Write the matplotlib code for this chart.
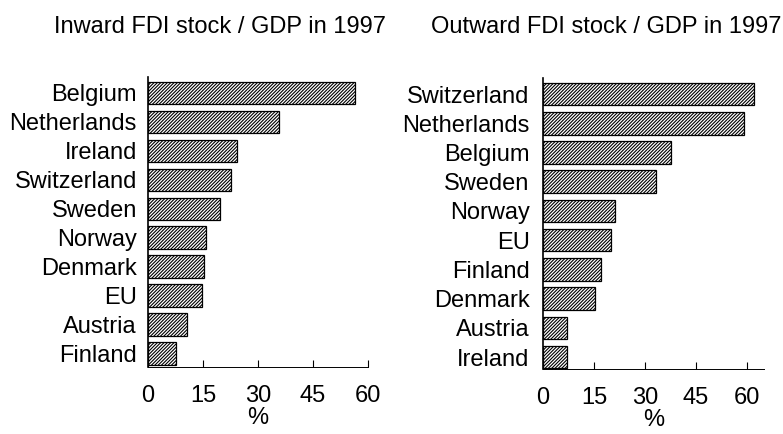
import matplotlib
matplotlib.use("Agg")
import matplotlib.pyplot as plt

plt.rcParams['font.family'] = ['Liberation Sans', 'DejaVu Sans']
plt.rcParams['hatch.linewidth'] = 0.8

inward_countries = ['Belgium', 'Netherlands', 'Ireland', 'Switzerland', 'Sweden',
                    'Norway', 'Denmark', 'EU', 'Austria', 'Finland']
inward_values = [56.4, 35.8, 24.3, 22.6, 19.6, 15.8, 15.4, 14.8, 10.5, 7.5]

outward_countries = ['Switzerland', 'Netherlands', 'Belgium', 'Sweden', 'Norway',
                     'EU', 'Finland', 'Denmark', 'Austria', 'Ireland']
outward_values = [62.0, 59.2, 37.7, 33.3, 21.1, 19.9, 17.2, 15.4, 7.2, 7.1]

xticks = [0, 15, 30, 45, 60]

fig = plt.figure(figsize=(7.83, 4.34), dpi=100)
ax1 = fig.add_axes([148 / 783, 1 - 367 / 434, 220 / 783, 290 / 434])
ax2 = fig.add_axes([543 / 783, 1 - 369 / 434, 221 / 783, 291 / 434])


def draw(ax, countries, values, xmax, ylim, label_pad):
    pos = range(len(countries))
    ax.barh(pos, values, height=0.77, color='white', edgecolor='black',
            linewidth=0.9, hatch='//////////')
    ax.set_yticks(list(pos))
    ax.set_yticklabels(countries, fontsize=17)
    ax.set_ylim(*ylim)
    ax.set_xlim(0, xmax)
    ax.set_xticks(xticks)
    ax.set_xticklabels([str(t) for t in xticks], fontsize=17)
    ax.tick_params(axis='y', length=0, pad=label_pad)
    ax.tick_params(axis='x', direction='in', length=5, width=0.8, pad=13)
    ax.set_xlabel('%', fontsize=17, labelpad=0)
    for s in ['top', 'right']:
        ax.spines[s].set_visible(False)
    ax.spines['left'].set_linewidth(1.2)
    ax.spines['bottom'].set_linewidth(0.7)


draw(ax1, inward_countries, inward_values, 60, (9.47, -0.55), 8)
draw(ax2, outward_countries, outward_values, 65, (9.41, -0.55), 9.6)

fig.text(220 / 783, 1 - 27 / 434, 'Inward FDI stock / GDP in 1997',
         fontsize=17, ha='center', va='center')
fig.text(606 / 783, 1 - 27 / 434, 'Outward FDI stock / GDP in 1997',
         fontsize=17, ha='center', va='center')

fig.savefig('out.png', dpi=100)
